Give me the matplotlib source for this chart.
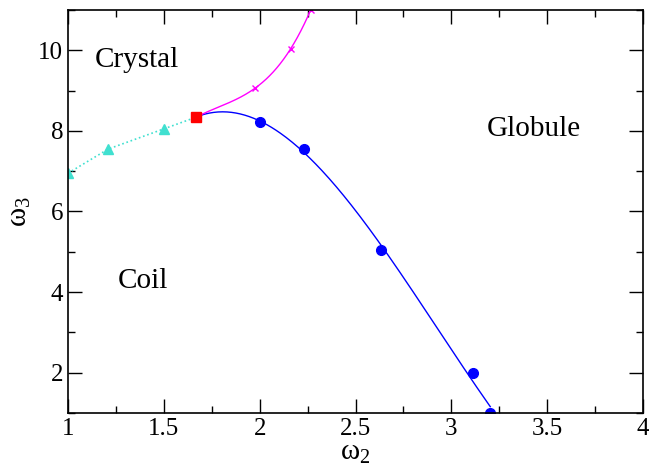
import matplotlib
matplotlib.use("Agg")
import matplotlib.pyplot as plt
import numpy as np
from matplotlib.ticker import MultipleLocator

plt.rcParams['font.family'] = ['Liberation Serif', 'DejaVu Serif']
plt.rcParams['mathtext.fontset'] = 'custom'
plt.rcParams['mathtext.rm'] = 'Liberation Serif'
plt.rcParams['mathtext.it'] = 'Liberation Serif'

# triple point (square)
tp_w2 = [1.668]
tp_w3 = [8.34]

# coil - crystal boundary (triangles, dotted)
cc_w2 = [1.0, 1.21, 1.50]
cc_w3 = [6.95, 7.55, 8.05]

# crystal - globule boundary (crosses)
cg_w2 = [1.976, 2.162, 2.266]
cg_w3 = [9.06, 10.04, 11.0]

# coil - globule boundary (circles)
gl_w2 = [2.0, 2.233, 2.633, 3.113, 3.203]
gl_w3 = [8.22, 7.55, 5.04, 2.0, 1.0]

fig = plt.figure(figsize=(6.49, 4.68), dpi=100)
ax = fig.add_axes([68/649, 1 - 413/468, 575/649, 403/468])

# dotted line triangles -> square
ax.plot(cc_w2 + tp_w2, cc_w3 + tp_w3, color='turquoise', ls=':', lw=1.2)
ax.plot(cc_w2, cc_w3, ls='none', marker='^', color='turquoise', ms=7)

# smooth fits from the triple point
x_all = np.array(tp_w2 + gl_w2)
y_all = np.array(tp_w3 + gl_w3)
p = np.polyfit(x_all, y_all, 3)
xs = np.linspace(tp_w2[0], gl_w2[-1], 200)
ax.plot(xs, np.polyval(p, xs), color='blue', lw=1)
ax.plot(gl_w2, gl_w3, ls='none', marker='o', color='blue', ms=7)

x_m = np.array(tp_w2 + cg_w2)
y_m = np.array(tp_w3 + cg_w3)
pm = np.polyfit(x_m, y_m, 3)
xs2 = np.linspace(tp_w2[0], cg_w2[-1], 200)
ax.plot(xs2, np.polyval(pm, xs2), color='magenta', lw=1)
ax.plot(cg_w2, cg_w3, ls='none', marker='x', color='magenta', ms=5, mew=1)

ax.plot(tp_w2, tp_w3, ls='none', marker='s', color='red', ms=7)

ax.text(1.14, 9.58, 'Crystal', fontsize=21)
ax.text(3.186, 7.87, 'Globule', fontsize=21)
ax.text(1.26, 4.1, 'Coil', fontsize=21)

ax.set_xlim(1, 4)
ax.set_ylim(1, 11)
ax.xaxis.set_minor_locator(MultipleLocator(0.25))
ax.yaxis.set_major_locator(MultipleLocator(2))
ax.yaxis.set_minor_locator(MultipleLocator(1))
ax.tick_params(which='both', direction='in', top=True, right=True, labelsize=18, width=1)
ax.tick_params(which='major', length=10)
ax.tick_params(which='minor', length=5)
ax.set_xticks([1, 1.5, 2, 2.5, 3, 3.5, 4])
ax.set_xticklabels(['1', '1.5', '2', '2.5', '3', '3.5', '4'])
for s in ax.spines.values():
    s.set_linewidth(1.2)

ax.set_xlabel(r'$\omega_2$', fontsize=21, labelpad=0)
ax.set_ylabel(r'$\omega_3$', fontsize=21, labelpad=4)

fig.savefig('out.png', dpi=100)
